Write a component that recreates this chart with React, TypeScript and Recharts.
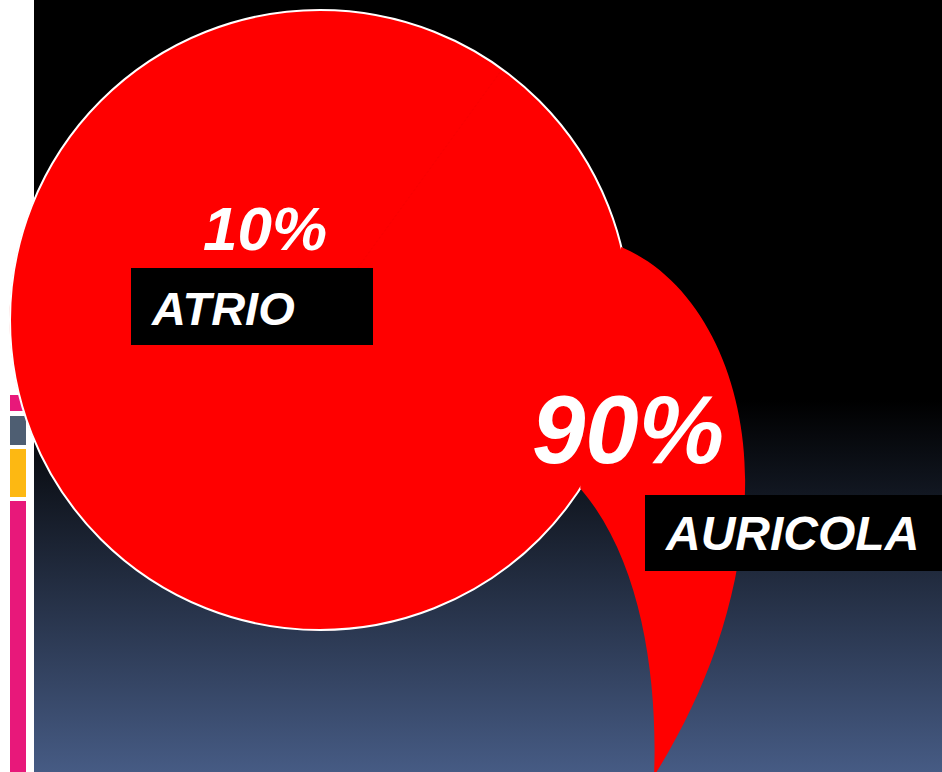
// atrium vs auricle share: red atrium disc with the auricle appendage
import { PieChart, Pie, Cell, Customized } from "recharts";

const SEGMENTS = ["ATRIO", "AURICOLA"];
const SHARES = [10, 90];
const SHARE_LABELS = ["10%", "90%"];

const SIDE_BAR_COLORS = ["#E8187A", "#4E5E72", "#FDB812", "#E8187A"];
const SIDE_BAR_SPANS = [
  [395, 411],
  [416, 445],
  [449, 497],
  [501, 772],
];

const W = 942;
const H = 772;
const CX = 320;
const CY = 320;
const R = 310;
const RED = "#FF0000";
const FONT = "'Liberation Sans', Arial, sans-serif";

const data = SEGMENTS.map((name, i) => ({ name, value: SHARES[i] }));

const Backdrop = () => (
  <g>
    <defs>
      <linearGradient id="slideBg" x1="0" y1="0" x2="0" y2="1">
        <stop offset="0" stopColor="#000000" />
        <stop offset={400 / H} stopColor="#000000" />
        <stop offset="1" stopColor="#465B84" />
      </linearGradient>
    </defs>
    <rect x={0} y={0} width={W} height={H} fill="#ffffff" />
    <rect x={34} y={0} width={W - 34} height={H} fill="url(#slideBg)" />
    {SIDE_BAR_SPANS.map(([y0, y1], i) => (
      <rect key={i} x={10} y={y0} width={16} height={y1 - y0} fill={SIDE_BAR_COLORS[i]} />
    ))}
  </g>
);

const polar = (cx: number, cy: number, r: number, deg: number) => ({
  x: cx + r * Math.cos((deg * Math.PI) / 180),
  y: cy + r * Math.sin((deg * Math.PI) / 180),
});

// auricle appendage, hung off the right side of the atrium disc
const appendagePath = (cx: number, cy: number, r: number) => {
  const top = polar(cx, cy, r, -13.6);
  const low = polar(cx, cy, r, 32.9);
  const inner = polar(cx, cy, r * 0.85, 10);
  return [
    `M ${top.x} ${top.y}`,
    `C 700 280, 748 380, 745 490`,
    `C 743 600, 702 700, 654 776`,
    `C 658 680, 642 560, ${low.x} ${low.y}`,
    `L ${inner.x} ${inner.y} Z`,
  ].join(" ");
};

const renderLabel = (props: any) => {
  const cx = Number(props.cx ?? CX);
  const cy = Number(props.cy ?? CY);
  const r = Number(props.outerRadius ?? R);
  const txt = { fontFamily: FONT, fontWeight: "bold", fontStyle: "italic" } as const;
  if (props.index === 0) {
    return (
      <g key="lab-0">
        <circle cx={cx} cy={cy} r={r} fill="none" stroke="#ffffff" strokeWidth={2} />
        <text x={265} y={250} fontSize={62} textAnchor="middle" fill="#ffffff" {...txt}>
          {SHARE_LABELS[0]}
        </text>
        <rect x={131} y={268} width={242} height={77} fill="#000000" />
        <text x={152} y={325} fontSize={47} fill="#ffffff" {...txt}>
          {SEGMENTS[0]}
        </text>
      </g>
    );
  }
  return (
    <g key="lab-1">
      <path d={appendagePath(cx, cy, r)} fill={RED} />
      <text x={628} y={463} fontSize={96} textAnchor="middle" fill="#ffffff" {...txt}>
        {SHARE_LABELS[1]}
      </text>
      <rect x={645} y={495} width={W - 645} height={76} fill="#000000" />
      <text x={666} y={550} fontSize={48} fill="#ffffff" {...txt}>
        {SEGMENTS[1]}
      </text>
    </g>
  );
};

const App = () => {
  return (
    <div style={{ position: "absolute", left: 0, top: 0, width: W, height: H }}>
      <PieChart width={W} height={H} margin={{ top: 0, right: 0, bottom: 0, left: 0 }}>
        <Customized component={Backdrop} />
        <Pie
          data={data}
          dataKey="value"
          nameKey="name"
          cx={CX}
          cy={CY}
          innerRadius={0}
          outerRadius={R}
          startAngle={90}
          endAngle={-270}
          stroke={RED}
          strokeWidth={1}
          label={renderLabel}
          labelLine={false}
          isAnimationActive={false}
        >
          {data.map((entry, index) => (
            <Cell key={`cell-${index}`} fill={RED} />
          ))}
        </Pie>
      </PieChart>
    </div>
  );
};

export default App;
